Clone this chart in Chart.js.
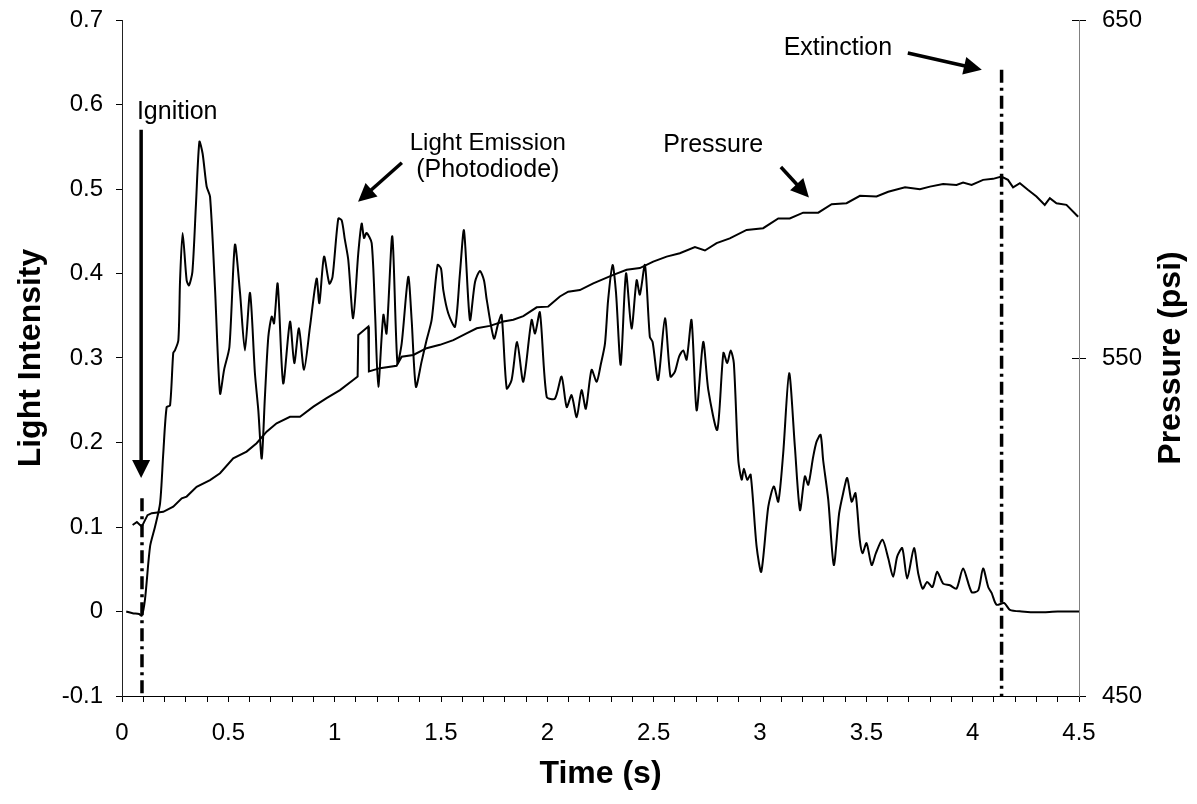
<!DOCTYPE html>
<html>
<head>
<meta charset="utf-8">
<script src="https://cdn.jsdelivr.net/npm/chart.js@4.4.1/dist/chart.umd.min.js"></script>
<style>
  html, body { margin: 0; padding: 0; background: #fff; }
  #wrap { width: 1197px; height: 804px; }
</style>
</head>
<body>
<div id="wrap"><canvas id="c" width="1197" height="804"></canvas></div>
<script>
// ---------------- DATA ----------------
const lightTime = [
  0.02, 0.05, 0.08, 0.093, 0.108, 0.132, 0.155, 0.179, 0.194, 0.21,
  0.226, 0.241, 0.249, 0.265, 0.273, 0.285, 0.304, 0.315, 0.331, 0.348,
  0.364, 0.379, 0.398, 0.414, 0.437, 0.461, 0.48, 0.505, 0.531, 0.555,
  0.578, 0.602, 0.625, 0.641, 0.657, 0.672, 0.688, 0.704, 0.715, 0.732,
  0.758, 0.79, 0.81, 0.832, 0.856, 0.884, 0.915, 0.928, 0.95, 0.975,
  0.99, 1.017, 1.033, 1.048, 1.064, 1.087, 1.111, 1.127, 1.138, 1.15,
  1.174, 1.19, 1.205, 1.229, 1.244, 1.271, 1.295, 1.315, 1.346, 1.362,
  1.382, 1.409, 1.432, 1.456, 1.484, 1.5, 1.511, 1.534, 1.566, 1.589,
  1.608, 1.636, 1.66, 1.683, 1.702, 1.715, 1.749, 1.769, 1.785, 1.809,
  1.832, 1.858, 1.887, 1.926, 1.942, 1.965, 1.997, 2.036, 2.067, 2.091,
  2.114, 2.138, 2.161, 2.181, 2.208, 2.232, 2.251, 2.271, 2.286, 2.307,
  2.323, 2.345, 2.37, 2.396, 2.42, 2.435, 2.459, 2.482, 2.495, 2.521,
  2.553, 2.579, 2.6, 2.62, 2.639, 2.655, 2.678, 2.702, 2.733, 2.757,
  2.799, 2.828, 2.846, 2.862, 2.877, 2.898, 2.914, 2.924, 2.94, 2.956,
  2.984, 3.006, 3.039, 3.065, 3.086, 3.109, 3.137, 3.164, 3.188, 3.211,
  3.227, 3.25, 3.266, 3.285, 3.297, 3.321, 3.347, 3.372, 3.391, 3.41,
  3.431, 3.449, 3.469, 3.482, 3.501, 3.525, 3.545, 3.576, 3.603, 3.626,
  3.645, 3.669, 3.692, 3.724, 3.744, 3.765, 3.786, 3.811, 3.833, 3.861,
  3.893, 3.924, 3.955, 3.995, 4.026, 4.049, 4.073, 4.089, 4.112, 4.148,
  4.175, 4.23, 4.31, 4.4, 4.5
];
const lightIntensity = [
  0.0, -0.002, -0.003, -0.005, 0.014, 0.077, 0.10, 0.128, 0.187, 0.242,
  0.244, 0.306, 0.309, 0.321, 0.392, 0.448, 0.392, 0.386, 0.402, 0.483,
  0.556, 0.542, 0.503, 0.491, 0.384, 0.258, 0.286, 0.313, 0.434, 0.377,
  0.309, 0.377, 0.282, 0.238, 0.181, 0.254, 0.325, 0.349, 0.341, 0.388,
  0.270, 0.343, 0.294, 0.335, 0.286, 0.337, 0.394, 0.365, 0.420, 0.388,
  0.396, 0.465, 0.463, 0.44, 0.416, 0.347, 0.424, 0.459, 0.442, 0.448,
  0.436, 0.353, 0.266, 0.351, 0.329, 0.444, 0.294, 0.317, 0.396, 0.345,
  0.266, 0.296, 0.321, 0.345, 0.41, 0.406, 0.380, 0.353, 0.337, 0.400,
  0.451, 0.345, 0.390, 0.403, 0.392, 0.369, 0.323, 0.341, 0.351, 0.264,
  0.274, 0.319, 0.272, 0.345, 0.329, 0.354, 0.254, 0.252, 0.278, 0.242,
  0.256, 0.230, 0.262, 0.240, 0.286, 0.272, 0.292, 0.317, 0.369, 0.410,
  0.377, 0.292, 0.400, 0.335, 0.392, 0.375, 0.410, 0.325, 0.319, 0.274,
  0.347, 0.278, 0.284, 0.302, 0.309, 0.298, 0.345, 0.238, 0.319, 0.262,
  0.215, 0.306, 0.294, 0.309, 0.294, 0.179, 0.156, 0.169, 0.156, 0.162,
  0.077, 0.047, 0.124, 0.148, 0.130, 0.187, 0.282, 0.195, 0.120, 0.160,
  0.150, 0.183, 0.201, 0.209, 0.179, 0.132, 0.055, 0.116, 0.140, 0.158,
  0.130, 0.140, 0.085, 0.069, 0.081, 0.055, 0.069, 0.085, 0.063, 0.041,
  0.065, 0.075, 0.039, 0.075, 0.045, 0.027, 0.035, 0.029, 0.047, 0.033,
  0.031, 0.027, 0.051, 0.023, 0.025, 0.051, 0.029, 0.022, 0.008, 0.010,
  0.002, 0.0, -0.001, 0.0, 0.0
];
const pressureTime = [
  0.05, 0.07, 0.093, 0.12, 0.14, 0.194, 0.241, 0.281, 0.304, 0.351,
  0.414, 0.461, 0.523, 0.586, 0.633, 0.68, 0.727, 0.79, 0.837, 0.9,
  0.962, 1.025, 1.087, 1.108, 1.111, 1.158, 1.161, 1.213, 1.291, 1.315,
  1.37, 1.432, 1.495, 1.558, 1.62, 1.668, 1.73, 1.793, 1.84, 1.887,
  1.95, 2.004, 2.059, 2.098, 2.153, 2.216, 2.31, 2.373, 2.435, 2.498,
  2.561, 2.623, 2.694, 2.741, 2.796, 2.858, 2.937, 3.015, 3.086, 3.14,
  3.203, 3.274, 3.337, 3.407, 3.47, 3.548, 3.603, 3.682, 3.752, 3.799,
  3.861, 3.924, 3.955, 3.995, 4.049, 4.096, 4.135, 4.166, 4.19, 4.222,
  4.261, 4.3, 4.339, 4.363, 4.394, 4.441, 4.496
];
const pressurePsi = [
  500.6, 501.5, 500.1, 503.5, 504.1, 504.5, 506.0, 508.5, 509.0, 511.9,
  513.9, 515.9, 520.3, 522.3, 524.8, 528.2, 530.7, 532.6, 532.6, 535.6,
  538.1, 540.5, 543.5, 544.5, 556.8, 559.3, 546.0, 547.0, 547.7, 550.4,
  550.9, 552.9, 553.9, 555.3, 557.3, 558.8, 559.5, 560.8, 561.3, 562.4,
  565.0, 565.2, 568.2, 569.6, 570.1, 572.1, 574.6, 576.1, 576.6, 578.5,
  580.0, 581.0, 582.8, 581.8, 584.0, 585.4, 587.9, 588.4, 591.3, 591.3,
  593.0, 593.0, 595.5, 595.8, 598.0, 597.8, 599.2, 600.5, 599.9, 600.7,
  601.5, 601.2, 601.9, 601.2, 602.7, 603.0, 603.7, 602.7, 600.5, 601.7,
  599.7, 597.8, 595.3, 597.3, 595.8, 595.3, 591.8
];
const ignitionTime = 0.094;
const extinctionTime = 4.136;
const ignitionLineTop = 0.134;
const extinctionLineTop = 0.641;

const xTickLabelStep = 0.5;
const yLeftTicks = [-0.1, 0, 0.1, 0.2, 0.3, 0.4, 0.5, 0.6, 0.7];
const yRightTicks = [450, 550, 650];

// annotation text & arrows (in data units of time / light intensity)
const noteTexts = [
  { text: 'Ignition', t: 0.07, v: 0.591, align: 'left' },
  { text: 'Light Emission', t: 1.72, v: 0.554, align: 'center' },
  { text: '(Photodiode)', t: 1.72, v: 0.522, align: 'center' },
  { text: 'Pressure', t: 2.78, v: 0.552, align: 'center' },
  { text: 'Extinction', t: 3.366, v: 0.667, align: 'center' }
];
const noteArrows = [
  { from: [0.090, 0.570], to: [0.090, 0.158] },
  { from: [1.316, 0.531], to: [1.110, 0.485] },
  { from: [3.098, 0.526], to: [3.230, 0.490] },
  { from: [3.695, 0.661], to: [4.043, 0.641] }
];

// ---------------- CHART ----------------
const FONT = "'Liberation Sans', Arial, Helvetica, sans-serif";
Chart.defaults.font.family = FONT;
Chart.defaults.color = '#000';

const zip = (a, b) => a.map((x, i) => ({ x: x, y: b[i] }));
const noPad = s => { s.paddingTop = 0; s.paddingBottom = 0; s.paddingLeft = 0; s.paddingRight = 0; };

const annotPlugin = {
  id: 'annot',
  afterDraw(chart) {
    const { ctx, scales, chartArea } = chart;
    const xs = scales.x, ys = scales.y, y2 = scales.y2;
    ctx.save();
    // inward halves of right-axis ticks (crossing ticks)
    ctx.strokeStyle = '#000';
    ctx.lineWidth = 1;
    yRightTicks.forEach(v => {
      const py = Math.round(y2.getPixelForValue(v)) + 0.5;
      ctx.beginPath();
      ctx.moveTo(chartArea.right - 7, py);
      ctx.lineTo(chartArea.right, py);
      ctx.stroke();
    });
    // texts
    ctx.fillStyle = '#000';
    ctx.textBaseline = 'middle';
    noteTexts.forEach(n => {
      ctx.font = (n.text === 'Light Emission' ? '24px ' : '25px ') + FONT;
      ctx.textAlign = n.align;
      ctx.fillText(n.text, xs.getPixelForValue(n.t), ys.getPixelForValue(n.v));
    });
    // arrows
    noteArrows.forEach(a => {
      const x1 = xs.getPixelForValue(a.from[0]), y1 = ys.getPixelForValue(a.from[1]);
      const x2 = xs.getPixelForValue(a.to[0]), y2p = ys.getPixelForValue(a.to[1]);
      const ang = Math.atan2(y2p - y1, x2 - x1);
      const headLen = 18, headW = 9;
      const bx = x2 - headLen * Math.cos(ang), by = y2p - headLen * Math.sin(ang);
      ctx.lineWidth = 3.5;
      ctx.lineCap = 'butt';
      ctx.beginPath();
      ctx.moveTo(x1, y1);
      ctx.lineTo(bx + 2 * Math.cos(ang), by + 2 * Math.sin(ang));
      ctx.stroke();
      ctx.beginPath();
      ctx.moveTo(x2, y2p);
      ctx.lineTo(bx + headW * Math.sin(ang), by - headW * Math.cos(ang));
      ctx.lineTo(bx - headW * Math.sin(ang), by + headW * Math.cos(ang));
      ctx.closePath();
      ctx.fill();
    });
    // right axis title (reads bottom-to-top)
    ctx.font = 'bold 32px ' + FONT;
    ctx.textAlign = 'center';
    ctx.textBaseline = 'middle';
    ctx.translate(chart.width - 26, (chartArea.top + chartArea.bottom) / 2);
    ctx.rotate(-Math.PI / 2);
    ctx.fillText('Pressure (psi)', 0, 0);
    ctx.restore();
  }
};

new Chart(document.getElementById('c'), {
  type: 'scatter',
  data: {
    datasets: [
      {
        label: 'Light Emission (Photodiode)',
        data: zip(lightTime, lightIntensity),
        yAxisID: 'y', showLine: true, borderColor: '#000', borderWidth: 2,
        pointRadius: 0, tension: 0.25
      },
      {
        label: 'Pressure',
        data: zip(pressureTime, pressurePsi),
        yAxisID: 'y2', showLine: true, borderColor: '#000', borderWidth: 2,
        pointRadius: 0, tension: 0
      },
      {
        label: 'Ignition',
        data: [{ x: ignitionTime, y: ignitionLineTop }, { x: ignitionTime, y: -0.1 }],
        yAxisID: 'y', showLine: true, borderColor: '#000', borderWidth: 3.5,
        borderDash: [13, 5, 3, 5], pointRadius: 0
      },
      {
        label: 'Extinction',
        data: [{ x: extinctionTime, y: extinctionLineTop }, { x: extinctionTime, y: -0.1 }],
        yAxisID: 'y', showLine: true, borderColor: '#000', borderWidth: 3.5,
        borderDash: [13, 5, 3, 5], pointRadius: 0
      }
    ]
  },
  options: {
    responsive: false,
    animation: false,
    layout: { padding: { top: 20, left: 0, right: 0, bottom: 0 } },
    plugins: { legend: { display: false }, tooltip: { enabled: false } },
    scales: {
      x: {
        type: 'linear', min: 0, max: 4.5,
        afterFit: s => { s.height = 108; noPad(s); },
        ticks: {
          stepSize: 0.1, autoSkip: false, maxRotation: 0, padding: 17,
          font: { size: 24 }, color: '#000',
          callback: v => {
            const r = v / xTickLabelStep;
            if (Math.abs(r - Math.round(r)) < 1e-6) {
              const val = Math.round(r) * xTickLabelStep;
              return String(val);
            }
            return '';
          }
        },
        grid: { drawOnChartArea: false, drawTicks: true, tickLength: 6, color: '#000', lineWidth: 1 },
        border: { display: true, color: '#000', width: 1 },
        title: { display: true, text: 'Time (s)', font: { size: 32, weight: 'bold' }, color: '#000', padding: { top: 0, bottom: 11 } }
      },
      y: {
        position: 'left', min: -0.1, max: 0.7,
        afterFit: s => { s.width = 122; noPad(s); },
        afterBuildTicks: s => { s.ticks = yLeftTicks.map(v => ({ value: v })); },
        ticks: {
          padding: 13, font: { size: 24 }, color: '#000',
          callback: v => (Math.abs(v) < 1e-9 ? '0' : Number(v).toFixed(1))
        },
        grid: { drawOnChartArea: false, drawTicks: true, tickLength: 6, color: '#000' },
        border: { display: true, color: '#222', width: 1 },
        title: { display: true, text: 'Light Intensity', font: { size: 32, weight: 'bold' }, color: '#000', padding: { top: 12, bottom: 0 } }
      },
      y2: {
        position: 'right', min: 450, max: 650,
        afterFit: s => { s.width = 118; noPad(s); },
        afterBuildTicks: s => { s.ticks = yRightTicks.map(v => ({ value: v })); },
        ticks: { padding: 16, font: { size: 24 }, color: '#000', callback: v => String(v) },
        grid: { drawOnChartArea: false, drawTicks: true, tickLength: 7, color: '#000' },
        border: { display: true, color: '#808080', width: 1 }
      }
    }
  },
  plugins: [annotPlugin]
});
</script>
</body>
</html>
